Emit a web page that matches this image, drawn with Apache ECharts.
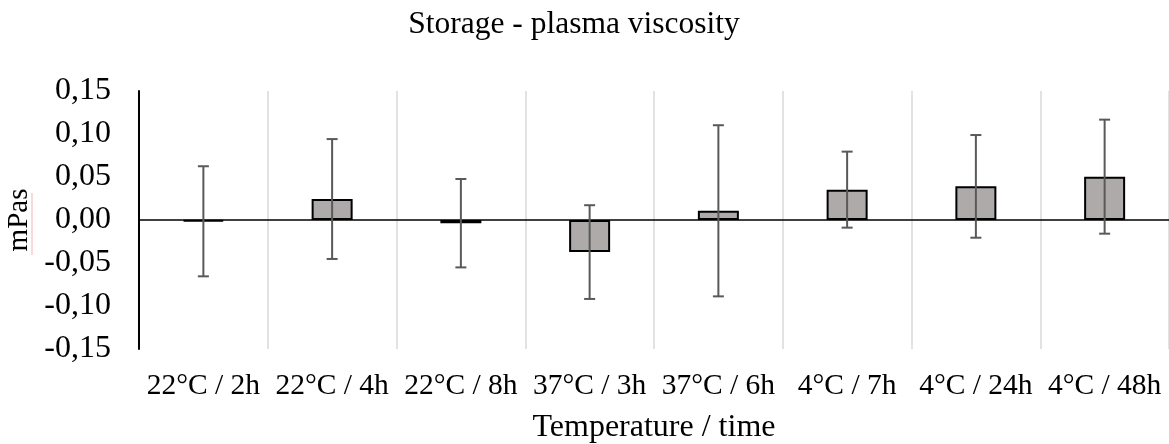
<!DOCTYPE html>
<html>
<head>
<meta charset="utf-8">
<script src="https://cdn.jsdelivr.net/npm/echarts@6/dist/echarts.min.js"></script>
<style>
html,body{margin:0;padding:0;background:#fff;}
#chart{width:1169px;height:444px;}
</style>
</head>
<body>
<div id="chart"></div>
<script>
const categories = ['22°C / 2h','22°C / 4h','22°C / 8h','37°C / 3h','37°C / 6h','4°C / 7h','4°C / 24h','4°C / 48h'];
const means = [-0.0015, 0.0244, -0.0037, -0.0373, 0.0107, 0.0353, 0.0391, 0.0504];
const errors = [0.064, 0.0697, 0.0514, 0.0545, 0.0995, 0.0442, 0.0597, 0.0663];
const yTicks = { min: -0.15, max: 0.15, interval: 0.05 };

const FONT = '"Liberation Serif", "Times New Roman", serif';
const chart = echarts.init(document.getElementById('chart'), null, {renderer: 'canvas'});

const errData = categories.map((c, i) => [i, means[i] - errors[i], means[i] + errors[i]]);

chart.setOption({
  animation: false,
  title: {
    text: 'Storage - plasma viscosity',
    left: 569, top: 4, textAlign: 'center',
    textStyle: { fontFamily: FONT, fontSize: 31.5, fontWeight: 'normal', color: '#000' }
  },
  graphic: [{
    type: 'line', silent: true,
    shape: { x1: 32, y1: 193, x2: 32, y2: 255 },
    style: { stroke: '#f3b3b3', lineWidth: 1 }
  }],
  grid: { left: 139, right: 0, top: 91, bottom: 95, containLabel: false, outerBoundsMode: 'none' },
  xAxis: {
    type: 'category',
    data: categories,
    position: 'bottom',
    axisLine: { show: false, onZero: false },
    axisTick: { show: false },
    axisLabel: { fontFamily: FONT, fontSize: 29.5, color: '#000', margin: 22, interval: 0 },
    splitLine: { show: true, interval: 0, lineStyle: { color: '#d9d9d9', width: 1.5 } },
    name: 'Temperature / time',
    nameLocation: 'middle',
    nameGap: 63,
    nameTextStyle: { fontFamily: FONT, fontSize: 32, color: '#000' }
  },
  yAxis: {
    type: 'value',
    min: yTicks.min, max: yTicks.max, interval: yTicks.interval,
    axisLine: { show: true, lineStyle: { color: '#000', width: 2 } },
    axisTick: { show: false },
    splitLine: { show: false },
    axisLabel: {
      fontFamily: FONT, fontSize: 32, color: '#000', margin: 28,
      formatter: v => v.toFixed(2).replace('.', ',').replace('-0,00', '0,00')
    },
    name: 'mPas',
    nameLocation: 'middle',
    nameGap: 104,
    nameRotate: 90,
    nameTextStyle: { fontFamily: FONT, fontSize: 29, color: '#000' }
  },
  series: [
    {
      type: 'bar',
      data: means,
      barWidth: 41,
      itemStyle: { color: '#aeaaaa', borderColor: '#000', borderWidth: 2 },
      markLine: {
        silent: true, symbol: 'none', label: { show: false },
        lineStyle: { color: '#000', width: 1.5, type: 'solid' },
        data: [{ yAxis: 0 }]
      },
      z: 2
    },
    {
      type: 'custom',
      data: errData,
      z: 5,
      renderItem: function (params, api) {
        const x = api.value(0);
        const lo = api.coord([x, api.value(1)]);
        const hi = api.coord([x, api.value(2)]);
        const hw = 5.5;
        const style = { stroke: '#595959', lineWidth: 2 };
        return {
          type: 'group',
          children: [
            { type: 'line', shape: { x1: lo[0], y1: lo[1], x2: hi[0], y2: hi[1] }, style },
            { type: 'line', shape: { x1: lo[0] - hw, y1: lo[1], x2: lo[0] + hw, y2: lo[1] }, style },
            { type: 'line', shape: { x1: hi[0] - hw, y1: hi[1], x2: hi[0] + hw, y2: hi[1] }, style }
          ]
        };
      }
    }
  ]
});
</script>
</body>
</html>
